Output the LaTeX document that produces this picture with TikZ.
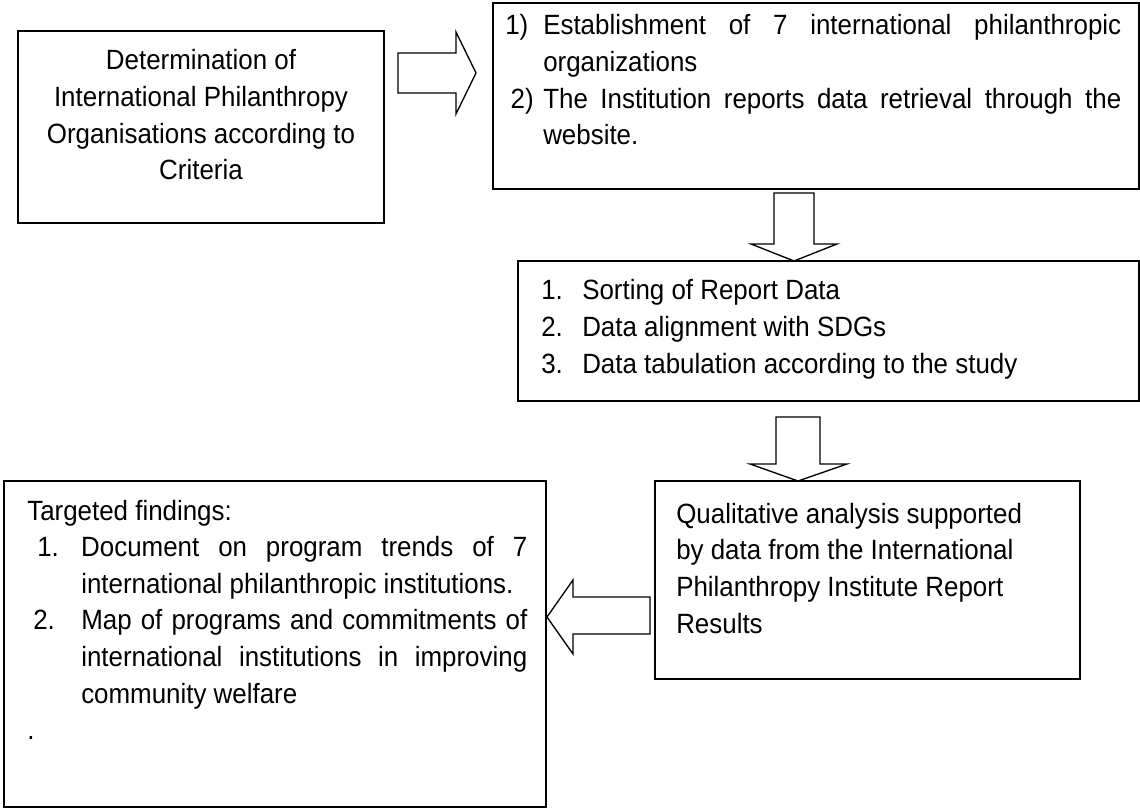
\documentclass[tikz,border=0pt]{standalone}
\usepackage{fontspec}
\setmainfont{Liberation Sans}[FakeStretch=0.93]
\usetikzlibrary{fit}

% paragraph block set at the diagram's text size; top-aligned on its first baseline
\newcommand{\flowtext}[2]{%
  \begin{minipage}[t]{#1}\fontsize{20.9pt}{27.5pt}\selectfont
  \parindent=0pt\hyphenpenalty=10000\relax #2\end{minipage}}
% numbered entry with a hanging indent: #1 = indent, #2 = offset of the number, #3 = number
\newcommand{\listentry}[3]{\hangindent=#1\relax\makebox[#1][l]{\hspace*{#2}#3}}

\begin{document}
\begin{tikzpicture}[x=0.75pt,y=-0.75pt,
  box/.style={draw=black, line width=1.4pt, inner sep=0pt},
  blockarrow/.style={draw=black, line width=1pt, line join=miter, fill=white},
  txt/.style={inner sep=0pt, anchor=base west}]
\useasboundingbox (0,0) rectangle (1140,809);

% boxes
\node[box, fit={(18,31) (384,223)}]    (b1) {};
\node[box, fit={(493,3) (1139,189)}]   (b2) {};
\node[box, fit={(518,261) (1139,401)}] (b3) {};
\node[box, fit={(655,481) (1080,679)}] (b5) {};
\node[box, fit={(4,481) (546,807)}]    (b4) {};

% texts
\node[txt, anchor=base] (t1) at (201,70) {\flowtext{270pt}{\centering
  Determination of\\ International Philanthropy\\ Organisations according to\\ Criteria\par}};

\node[txt] (t2) at (505,35) {\flowtext{462pt}{%
  \listentry{28.5pt}{0pt}{1)}Establishment of 7 international philanthropic\linebreak organizations\par
  \listentry{28.5pt}{4pt}{2)}The Institution reports data retrieval through the\linebreak website.\par}};

\node[txt] (t3) at (541,300) {\flowtext{420pt}{\raggedright
  \listentry{30.75pt}{0pt}{1.}Sorting of Report Data\par
  \listentry{30.75pt}{0pt}{2.}Data alignment with SDGs\par
  \listentry{30.75pt}{0pt}{3.}Data tabulation according to the study\par}};

\node[txt] (t5) at (676,523) {\flowtext{300pt}{\raggedright
  Qualitative analysis supported\\ by data from the International\\
  Philanthropy Institute Report\\ Results\par}};

\node[txt] (t4) at (27,520) {\flowtext{375pt}{%
  Targeted findings:\par
  \listentry{40.5pt}{7.5pt}{1.}Document on program trends of 7\linebreak international philanthropic institutions.\par
  \listentry{40.5pt}{4.5pt}{2.}Map of programs and commitments of\linebreak international institutions in improving\linebreak community welfare\par
  .\par}};

% block arrows between the steps
\draw[blockarrow] (398,53) -- (456,53) -- (456,32) -- (476,73) -- (456,114) -- (456,93) -- (398,93) -- cycle;
\draw[blockarrow] (774,193) -- (814,193) -- (814,244) -- (837,244) -- (794,261) -- (751,244) -- (774,244) -- cycle;
\draw[blockarrow] (776,417) -- (820,417) -- (820,464) -- (847,464) -- (798,481) -- (750,464) -- (776,464) -- cycle;
\draw[blockarrow] (650,597) -- (573,597) -- (573,580) -- (547,617) -- (573,654) -- (573,634) -- (650,634) -- cycle;
\end{tikzpicture}
\end{document}
